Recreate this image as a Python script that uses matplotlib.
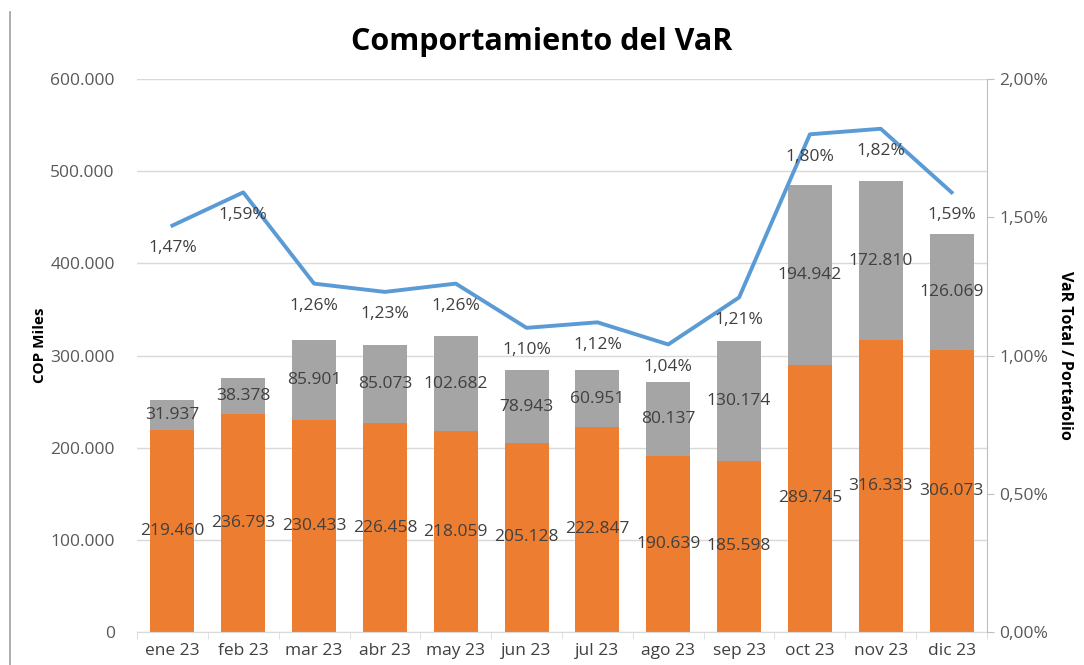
import matplotlib
matplotlib.use("Agg")
import matplotlib.pyplot as plt
from matplotlib.ticker import FuncFormatter, FixedLocator
import numpy as np

months = ["ene 23", "feb 23", "mar 23", "abr 23", "may 23", "jun 23",
          "jul 23", "ago 23", "sep 23", "oct 23", "nov 23", "dic 23"]
var_bottom = [219460, 236793, 230433, 226458, 218059, 205128,
              222847, 190639, 185598, 289745, 316333, 306073]
var_top = [31937, 38378, 85901, 85073, 102682, 78943,
           60951, 80137, 130174, 194942, 172810, 126069]
var_pct = [1.47, 1.59, 1.26, 1.23, 1.26, 1.10, 1.12, 1.04, 1.21, 1.80, 1.82, 1.59]

plt.rcParams['font.family'] = ['Open Sans', 'DejaVu Sans']

ORANGE = "#ED7D31"
GRAY = "#A5A5A5"
BLUE = "#5B9BD5"
TXT = "#404040"
TICK = "#595959"

def miles(v, pos=None):
    return f"{int(round(v)):,}".replace(",", ".")

fig = plt.figure(figsize=(10.84, 6.65), dpi=100)
ax = fig.add_axes([137/1084, 33/665, 850/1084, 553/665])
x = np.arange(len(months))
w = 0.62
ax.bar(x, var_bottom, w, color=ORANGE, zorder=2)
ax.bar(x, var_top, w, bottom=var_bottom, color=GRAY, zorder=2)

for xi, lo, hi in zip(x, var_bottom, var_top):
    ax.text(xi, lo / 2, miles(lo), ha="center", va="center", fontsize=12.5, color=TXT, zorder=4)
    ax.text(xi, lo + hi / 2, miles(hi), ha="center", va="center", fontsize=12.5, color=TXT, zorder=4)

ax.set_ylim(0, 600000)
ax.set_xlim(-0.5, len(months) - 0.5)
ax.yaxis.set_major_locator(FixedLocator(np.arange(0, 600001, 100000)))
ax.yaxis.set_major_formatter(FuncFormatter(miles))
ax.grid(axis="y", color="#D9D9D9", linewidth=1, zorder=0)
ax.set_axisbelow(True)
for s in ["left", "top", "right"]:
    ax.spines[s].set_visible(False)
ax.spines["bottom"].set_color("#D9D9D9")
ax.tick_params(axis="y", length=0, labelsize=12.5, labelcolor=TICK, pad=16)
ax.set_xticks(x)
ax.set_xticklabels(months)
ax.tick_params(axis="x", which="major", length=0, labelsize=12.5, labelcolor=TXT, pad=8)
ax.set_xticks(np.arange(-0.5, len(months), 1), minor=True)
ax.tick_params(axis="x", which="minor", length=5, color="#D9D9D9")

fig.text(40/1084, 1 - 345/665, "COP Miles", rotation=90, ha="center", va="center",
         fontsize=11, fontweight="bold", color="black")

ax2 = ax.twinx()
ax2.plot(x, var_pct, color=BLUE, linewidth=2.8, zorder=3)
ax2.set_ylim(0, 2.0)
ax2.yaxis.set_major_locator(FixedLocator([0, 0.5, 1.0, 1.5, 2.0]))
ax2.yaxis.set_major_formatter(FuncFormatter(lambda v, p: f"{v:.2f}%".replace(".", ",")))
for s in ["left", "top", "bottom"]:
    ax2.spines[s].set_visible(False)
ax2.spines["right"].set_color("#BFBFBF")
ax2.tick_params(axis="y", length=5, color="#BFBFBF", labelsize=12.5, labelcolor=TICK, pad=4)
ax2.set_ylabel("VaR Total / Portafolio", fontsize=11.5, fontweight="bold", rotation=270,
               labelpad=18, color="black")
for xi, p in zip(x, var_pct):
    ax2.annotate(f"{p:.2f}%".replace(".", ","), (xi, p), xytext=(0, -16),
                 textcoords="offset points", ha="center", va="center",
                 fontsize=12.5, color=TXT, zorder=5)

fig.text(0.5, 1 - 42/665, "Comportamiento del VaR", ha="center", va="center",
         fontsize=22, fontweight="bold", color="black")

fig.add_artist(plt.Line2D([10/1084, 10/1084], [0, 1 - 12/665], transform=fig.transFigure,
                          color="#A0A0A0", linewidth=1.2))

fig.savefig("out.png", dpi=100)
